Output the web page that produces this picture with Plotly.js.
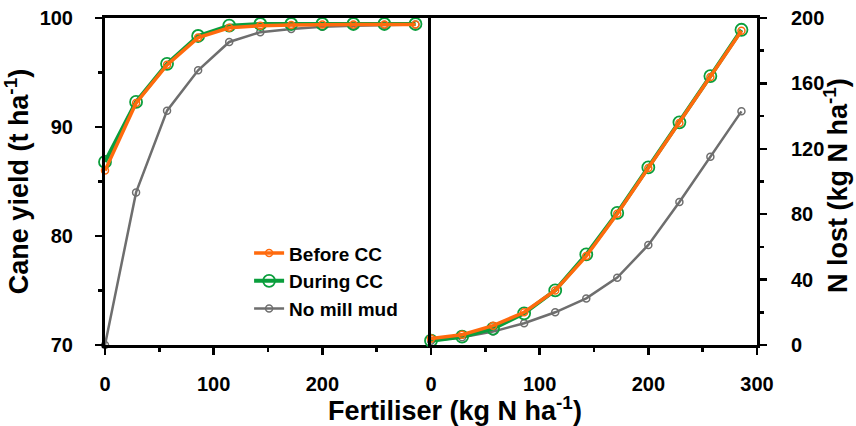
<!DOCTYPE html>
<html>
<head>
<meta charset="utf-8">
<script src="https://cdn.plot.ly/plotly-3.0.1.min.js"></script>
<style>html,body{margin:0;padding:0;background:#fff;}#chart{width:856px;height:426px;}</style>
</head>
<body>
<div id="chart"></div>
<script>
// Fertiliser rates (kg N/ha)
const fertiliser = [0, 28.6, 57.1, 85.7, 114.3, 142.9, 171.4, 200, 228.6, 257.1, 285.7];

// Cane yield (t/ha)
const yieldBefore = [86.0, 92.2, 95.7, 98.2, 99.1, 99.3, 99.35, 99.4, 99.4, 99.4, 99.4];
const yieldDuring = [86.8, 92.3, 95.8, 98.35, 99.3, 99.45, 99.45, 99.45, 99.45, 99.45, 99.45];
const yieldNoMud  = [70.0, 84.0, 91.5, 95.2, 97.8, 98.7, 99.0, 99.2, 99.3, 99.35, 99.4];

// N lost (kg N/ha)
const nlostBefore = [3.9, 6.3, 11.8, 20.0, 33.4, 54.4, 80.3, 108.3, 135.8, 163.9, 192.2];
const nlostDuring = [2.6, 5.1, 10.0, 19.4, 33.4, 55.4, 80.8, 108.6, 136.2, 164.5, 192.8];
const nlostNoMud  = [2.6, 4.7, 8.2, 13.3, 20.0, 28.5, 41.2, 61.2, 87.5, 115.2, 142.9];

const seriesNames = ['Before CC', 'During CC', 'No mill mud'];
const xTickVals = [0, 100, 200];
const xTickVals2 = [0, 100, 200, 300];

const cOrange = '#FF6A0D', cGreen = '#0A9E3C', cGray = '#6E6E6E';
const FONT = 'Liberation Sans, Arial, sans-serif';

function tr(x, y, name, color, lw, msize, mlw, xa, ya, show, rank) {
  return {
    x: x, y: y, name: name, type: 'scatter', mode: 'lines+markers',
    xaxis: xa, yaxis: ya, showlegend: show, legendrank: rank,
    line: {color: color, width: lw},
    marker: {symbol: 'circle-open', size: msize, color: color, line: {color: color, width: mlw}},
    cliponaxis: false
  };
}

const data = [
  tr(fertiliser, yieldNoMud, seriesNames[2], cGray, 2.5, 7, 1.5, 'x', 'y', true, 3),
  tr(fertiliser, yieldDuring, seriesNames[1], cGreen, 4, 12, 1.8, 'x', 'y', true, 2),
  tr(fertiliser, yieldBefore, seriesNames[0], cOrange, 3.5, 7, 1.5, 'x', 'y', true, 1),
  tr(fertiliser, nlostNoMud, seriesNames[2], cGray, 2.5, 7, 1.5, 'x2', 'y2', false, 3),
  tr(fertiliser, nlostDuring, seriesNames[1], cGreen, 4, 12, 1.8, 'x2', 'y2', false, 2),
  tr(fertiliser, nlostBefore, seriesNames[0], cOrange, 3.5, 7, 1.5, 'x2', 'y2', false, 1)
];

const tickFont = {family: FONT, size: 20, color: '#000', weight: 'bold'};
const titleFont = {family: FONT, size: 27, color: '#000', weight: 'bold'};

const axBase = {
  showline: true, linecolor: '#000', linewidth: 3, mirror: true,
  ticks: 'outside', ticklen: 7, tickwidth: 2.5, tickcolor: '#000',
  showgrid: false, zeroline: false, tickfont: tickFont,
  minor: {ticks: 'outside', ticklen: 4, tickwidth: 2.5, tickcolor: '#000', showgrid: false}
};

const layout = {
  width: 856, height: 426,
  margin: {l: 105, r: 99, t: 18, b: 81},
  paper_bgcolor: '#fff', plot_bgcolor: '#fff',
  font: {family: FONT, color: '#000'},
  showlegend: true,
  legend: {
    x: 0.221, xanchor: 'left', y: 0.195, yanchor: 'middle',
    bgcolor: 'rgba(0,0,0,0)', borderwidth: 0,
    font: {family: FONT, size: 19, color: '#000', weight: 'bold'},
    tracegroupgap: 0
  },
  xaxis: Object.assign({}, axBase, {
    domain: [0, 0.5], range: [0, 300], tickvals: xTickVals, anchor: 'y',
    ticklabelstandoff: 12,
    minor: Object.assign({}, axBase.minor, {dtick: 50, tick0: 0})
  }),
  xaxis2: Object.assign({}, axBase, {
    domain: [0.5, 1], range: [0, 300], tickvals: xTickVals2, anchor: 'y2',
    ticklabelstandoff: 12,
    minor: Object.assign({}, axBase.minor, {dtick: 50, tick0: 0})
  }),
  yaxis: Object.assign({}, axBase, {
    range: [70, 100], dtick: 10, anchor: 'x', side: 'left', mirror: false,
    ticklabelstandoff: 18,
    minor: Object.assign({}, axBase.minor, {dtick: 5, tick0: 70}),
    title: {text: 'Cane yield (t ha<sup>-1</sup>)', font: titleFont, standoff: 6}
  }),
  yaxis2: Object.assign({}, axBase, {
    range: [0, 200], dtick: 40, anchor: 'x2', side: 'right',
    ticklabelstandoff: 20,
    minor: Object.assign({}, axBase.minor, {dtick: 20, tick0: 0})
  }),
  annotations: [{
    text: 'Fertiliser (kg N ha<sup>-1</sup>)', xref: 'paper', yref: 'paper',
    x: 0.537, y: -0.195, xanchor: 'center', yanchor: 'middle', showarrow: false,
    font: titleFont
  }, {
    text: 'N lost (kg N ha<sup>-1</sup>)', xref: 'paper', yref: 'paper',
    x: 1.121, y: 0.489, xanchor: 'center', yanchor: 'middle', showarrow: false,
    textangle: -90, font: titleFont
  }]
};

Plotly.newPlot('chart', data, layout, {displayModeBar: false, staticPlot: true});
</script>
</body>
</html>
